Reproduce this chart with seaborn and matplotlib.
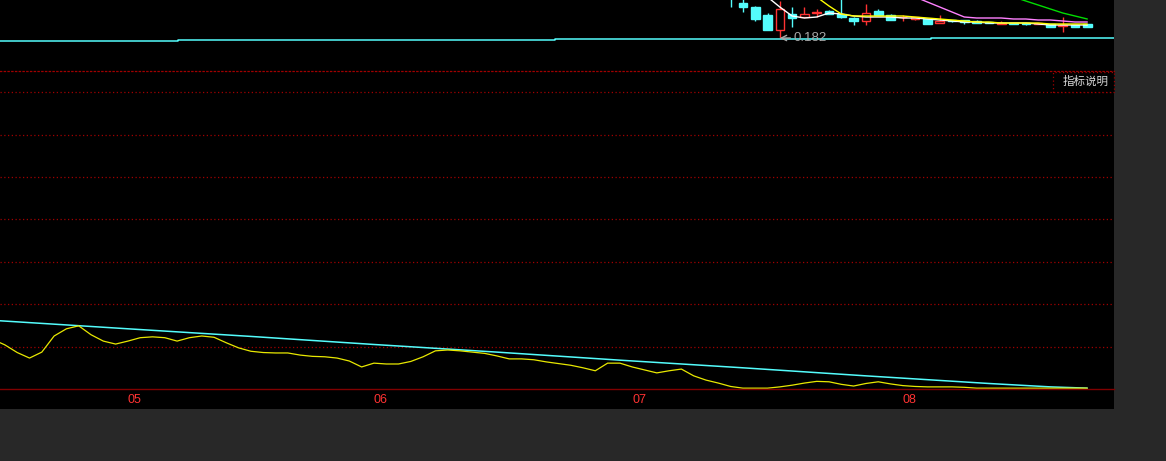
import numpy as np
import pandas as pd
import seaborn as sns
import matplotlib.pyplot as plt
from matplotlib.patches import Rectangle

# --- price panel (only its lower edge is on screen) ---
candle_day = list(range(59, 89))
candle_open = [0.232, 0.217, 0.213, 0.205, 0.190, 0.206, 0.203, 0.207, 0.209, 0.206,
               0.202, 0.199, 0.209, 0.205, 0.2025, 0.201, 0.201, 0.197, 0.200, 0.200,
               0.199, 0.198, 0.196, 0.197, 0.197, 0.196, 0.196, 0.1945, 0.195, 0.196]
candle_high = [0.236, 0.221, 0.214, 0.207, 0.219, 0.213, 0.213, 0.211, 0.210, 0.221,
               0.203, 0.216, 0.211, 0.206, 0.205, 0.203, 0.201, 0.205, 0.200, 0.200,
               0.200, 0.198, 0.199, 0.197, 0.197, 0.197, 0.196, 0.203, 0.195, 0.196]
candle_low = [0.213, 0.208, 0.199, 0.190, 0.182, 0.193, 0.203, 0.203, 0.206, 0.202,
              0.195, 0.195, 0.205, 0.200, 0.199, 0.200, 0.196, 0.197, 0.198, 0.196,
              0.197, 0.197, 0.196, 0.196, 0.195, 0.196, 0.193, 0.188, 0.193, 0.193]
candle_close = [0.225, 0.213, 0.201, 0.190, 0.211, 0.202, 0.206, 0.208, 0.206, 0.203,
                0.199, 0.207, 0.205, 0.200, 0.203, 0.203, 0.196, 0.199, 0.199, 0.198,
                0.197, 0.197, 0.197, 0.196, 0.196, 0.197, 0.193, 0.195, 0.193, 0.193]

nan = np.nan
ma_white = [0.250, 0.240, 0.230, 0.223, 0.213, 0.204, 0.202, 0.203, 0.207, 0.206,
            0.204, 0.203, 0.203, 0.203, 0.202, 0.202, 0.201, 0.200, 0.199, 0.198,
            0.198, 0.197, 0.197, 0.197, 0.197, 0.196, 0.195, 0.195, 0.195, 0.195]
ma_yellow = [nan, nan, nan, nan, 0.250, 0.240, 0.231, 0.223, 0.214, 0.206,
             0.204, 0.204, 0.204, 0.204, 0.204, 0.203, 0.202, 0.201, 0.200, 0.199,
             0.198, 0.198, 0.197, 0.197, 0.197, 0.197, 0.196, 0.196, 0.196, 0.196]
ma_pink = [nan] * 11 + [0.245, 0.238, 0.233, 0.228, 0.223, 0.218, 0.213, 0.208, 0.203,
                        0.202, 0.202, 0.202, 0.201, 0.201, 0.200, 0.200, 0.199, 0.198, 0.198]
ma_green = [nan] * 21 + [0.231, 0.227, 0.223, 0.219, 0.215, 0.211, 0.207, 0.204, 0.201]

# long flat line under the candles
base_day = [-0.4, 14.1, 44.7, 75.3, 90.2]
base_value = [0.1787, 0.1797, 0.1807, 0.1817, 0.1817]

low_day = 63
low_value = 0.182

# --- indicator panel ---
ind_day = list(range(-1, 89))
ind_yellow = [1.17,
              1.04, 0.86, 0.73, 0.87, 1.25, 1.42, 1.49, 1.28, 1.13, 1.06,
              1.13, 1.21, 1.23, 1.21, 1.13, 1.21, 1.25, 1.22, 1.09, 0.97,
              0.89, 0.86, 0.85, 0.85, 0.80, 0.77, 0.76, 0.73, 0.66, 0.52,
              0.61, 0.59, 0.59, 0.65, 0.76, 0.90, 0.92, 0.90, 0.87, 0.84,
              0.78, 0.71, 0.71, 0.69, 0.64, 0.60, 0.56, 0.50, 0.43, 0.61,
              0.61, 0.52, 0.45, 0.38, 0.43, 0.47, 0.31, 0.21, 0.14, 0.06,
              0.02, 0.02, 0.02, 0.05, 0.09, 0.14, 0.18, 0.17, 0.11, 0.07,
              0.13, 0.17, 0.12, 0.08, 0.06, 0.05, 0.05, 0.05, 0.04, 0.02,
              0.02, 0.02, 0.02, 0.02, 0.02, 0.02, 0.02, 0.02, 0.02]
trend_day = [-1, 10, 20, 30, 40, 50, 60, 70, 80, 85, 88]
trend_value = [1.62, 1.42, 1.24, 1.05, 0.87, 0.68, 0.50, 0.31, 0.13, 0.05, 0.02]

month_day = [10, 30, 51, 73]
month_label = ["05", "06", "07", "08"]

RED = "#ff3232"
CYAN = "#54fcfc"
GRID = "#a00000"

sns.set_theme(style="dark")
plt.rcParams["font.family"] = ["Liberation Sans", "Noto Sans CJK SC", "DejaVu Sans"]

W, H = 1166, 461
fig = plt.figure(figsize=(W / 100, H / 100), dpi=100, facecolor="#282828")

# black panel
bg = fig.add_axes([0, (H - 409) / H, 1114 / W, 409 / H])
bg.set_facecolor("black")
bg.set_xticks([])
bg.set_yticks([])
for s in bg.spines.values():
    s.set_visible(False)

xlim = (-0.4, 90.17)

# upper (price) strip
ax_top = fig.add_axes([0, (H - 70) / H, 1114 / W, 70 / H])
ax_top.patch.set_alpha(0)
ax_top.set_xlim(*xlim)
ax_top.set_ylim(0.150, 0.220)
ax_top.axis("off")

for d, o, h, l, c in zip(candle_day, candle_open, candle_high, candle_low, candle_close):
    up = c >= o
    col = RED if up else CYAN
    ax_top.vlines(d, l, h, color=col, lw=1, zorder=2)
    body = max(abs(c - o), 0.0007)
    ax_top.bar(d, body, bottom=min(o, c), width=0.7, color="black" if up else col,
               edgecolor=col, linewidth=1, zorder=3)

ma = pd.DataFrame({"day": candle_day, "white": ma_white, "yellow": ma_yellow,
                   "pink": ma_pink, "green": ma_green})
for name, col in [("white", "#ffffff"), ("yellow", "#ffff00"),
                  ("pink", "#ff80ff"), ("green", "#00dd00")]:
    sns.lineplot(data=ma, x="day", y=name, ax=ax_top, color=col, linewidth=1,
                 estimator=None, zorder=4)

sns.lineplot(x=base_day, y=base_value, ax=ax_top, color=CYAN, linewidth=1.1,
             drawstyle="steps-post", estimator=None)

ax_top.annotate(f"{low_value:.3f}", xy=(low_day, low_value), xytext=(10, 0),
                textcoords="offset points", ha="left", va="center",
                color="#a8a8a8", fontsize=9.5,
                arrowprops=dict(arrowstyle="->", color="#a8a8a8", lw=1,
                                shrinkA=0, shrinkB=0))

# lower (indicator) panel
ax = fig.add_axes([0, (H - 389) / H, 1114 / W, 318 / H])
ax.patch.set_alpha(0)

sns.lineplot(x=trend_day, y=trend_value, ax=ax, color=CYAN, linewidth=1.1, estimator=None)
sns.lineplot(x=ind_day, y=ind_yellow, ax=ax, color="#e8e800", linewidth=0.9, estimator=None)

ax.set_xlim(*xlim)
ax.set_ylim(0, 7.5)
ax.set_yticks([1, 2, 3, 4, 5, 6, 7])
ax.yaxis.grid(True, color=GRID, linestyle=(0, (1, 2)), linewidth=0.9)
ax.xaxis.grid(False)
ax.tick_params(axis="y", left=False, labelleft=False)
ax.set_xticks(month_day)
ax.set_xticklabels(month_label, color=RED, fontsize=9, ha="left")
ax.tick_params(axis="x", direction="out", length=2.5, width=0.8, color="#a04040", pad=1)
ax.set_xlabel("")
ax.set_ylabel("")
for side in ["left", "right"]:
    ax.spines[side].set_visible(False)
ax.spines["bottom"].set_color("#800000")
ax.spines["bottom"].set_linewidth(1)
ax.spines["top"].set_color(GRID)
ax.spines["top"].set_linestyle((0, (1, 2)))
ax.spines["top"].set_linewidth(0.9)

# indicator help box
box = Rectangle((1053 / W, (H - 92) / H), 61 / W, 20 / H, transform=fig.transFigure,
                facecolor="black", edgecolor=GRID, linestyle=(0, (1, 2)), linewidth=0.9)
fig.patches.append(box)
fig.text(1086 / W, (H - 82) / H, "指标说明", color="#d8d8d8", fontsize=8.3,
         ha="center", va="center")

fig.savefig("out.png", dpi=100, facecolor=fig.get_facecolor())
